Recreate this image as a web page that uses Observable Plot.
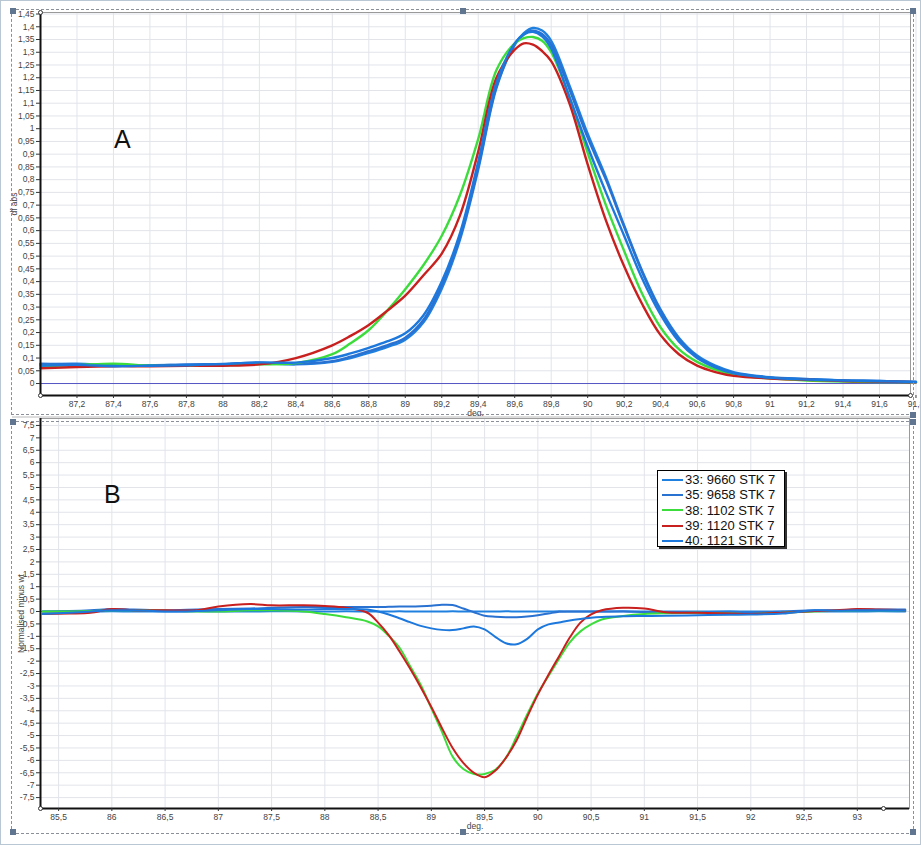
<!DOCTYPE html>
<html><head><meta charset="utf-8">
<script src="https://cdn.jsdelivr.net/npm/d3@7"></script>
<script src="https://cdn.jsdelivr.net/npm/@observablehq/plot@0.6"></script>
<style>
body{margin:0;background:#fff;}
#wrap{position:relative;width:921px;height:845px;overflow:hidden;background:#fff;font-family:"Liberation Sans",Arial,sans-serif;}
#wrap svg{position:absolute;left:0;}
.box{position:absolute;border:1px dashed #8a8f98;box-sizing:border-box;}
.sq{position:absolute;width:6px;height:6px;background:#5f7590;}
.ci{position:absolute;width:5px;height:5px;border:1px solid #333;border-radius:50%;background:#fff;box-sizing:border-box;}
.sep{position:absolute;height:2px;background:#dcdcdc;}
.letter{position:absolute;font-size:25px;color:#111;line-height:1;}
#legend{position:absolute;left:657px;top:470px;width:128px;height:77px;border:1px solid #000;box-shadow:2px 2px 0 #333;background:#fff;box-sizing:border-box;padding-top:1px;}
.row{height:15.3px;display:flex;align-items:center;font-size:13px;color:#111;white-space:nowrap;}
.sw{width:21px;height:2px;margin-left:4px;margin-right:2px;}
</style></head><body><div id="wrap"></div><script>
// ---------- names & colours ----------
const seriesNames = ["33: 9660 STK 7", "35: 9658 STK 7", "38: 1102 STK 7", "39: 1120 STK 7", "40: 1121 STK 7"];
const seriesColors = ["#1f80e0", "#2a72d2", "#3ddc3d", "#c8201e", "#1c78dc"];

// ---------- panel A (df abs vs deg.) ----------
const degA = [87.0, 87.2, 87.4, 87.6, 87.8, 88.0, 88.2, 88.4, 88.6, 88.7, 88.8, 88.9, 89.0, 89.1, 89.2, 89.3, 89.4, 89.5, 89.6, 89.65, 89.7, 89.75, 89.8, 89.9, 90.0, 90.1, 90.2, 90.3, 90.4, 90.5, 90.6, 90.7, 90.8, 91.0, 91.2, 91.4, 91.6, 91.8];
const a33 = [0.075, 0.078, 0.07, 0.072, 0.073, 0.075, 0.08, 0.075, 0.085, 0.1, 0.12, 0.143, 0.172, 0.24, 0.372, 0.565, 0.84, 1.16, 1.33, 1.375, 1.395, 1.385, 1.345, 1.17, 0.98, 0.81, 0.62, 0.44, 0.29, 0.18, 0.11, 0.07, 0.045, 0.025, 0.018, 0.012, 0.01, 0.006];
const a35 = [0.078, 0.075, 0.072, 0.07, 0.075, 0.077, 0.082, 0.078, 0.088, 0.105, 0.127, 0.15, 0.18, 0.25, 0.385, 0.575, 0.85, 1.165, 1.33, 1.37, 1.385, 1.372, 1.33, 1.155, 0.965, 0.8, 0.615, 0.435, 0.285, 0.175, 0.105, 0.065, 0.042, 0.024, 0.017, 0.012, 0.01, 0.006];
const a38 = [0.068, 0.072, 0.078, 0.07, 0.07, 0.072, 0.075, 0.08, 0.115, 0.158, 0.21, 0.285, 0.37, 0.465, 0.58, 0.74, 0.96, 1.23, 1.335, 1.355, 1.36, 1.345, 1.3, 1.125, 0.905, 0.7, 0.52, 0.35, 0.22, 0.135, 0.085, 0.055, 0.035, 0.02, 0.012, 0.008, 0.006, 0.005];
const a39 = [0.06, 0.065, 0.068, 0.068, 0.07, 0.07, 0.075, 0.1, 0.15, 0.187, 0.23, 0.285, 0.345, 0.425, 0.51, 0.66, 0.91, 1.2, 1.31, 1.335, 1.33, 1.305, 1.265, 1.1, 0.86, 0.64, 0.46, 0.31, 0.19, 0.115, 0.07, 0.045, 0.03, 0.02, 0.015, 0.01, 0.008, 0.005];
const a40 = [0.07, 0.073, 0.068, 0.07, 0.072, 0.076, 0.083, 0.082, 0.1, 0.118, 0.14, 0.165, 0.197, 0.268, 0.4, 0.59, 0.87, 1.18, 1.335, 1.37, 1.38, 1.363, 1.315, 1.125, 0.93, 0.75, 0.58, 0.41, 0.27, 0.165, 0.1, 0.063, 0.04, 0.022, 0.016, 0.012, 0.009, 0.006];
const xDomainA = [87.0, 91.77];
const yDomainA = [-0.047, 1.456];
const xTicksA = [87.2, 87.4, 87.6, 87.8, 88, 88.2, 88.4, 88.6, 88.8, 89, 89.2, 89.4, 89.6, 89.8, 90, 90.2, 90.4, 90.6, 90.8, 91, 91.2, 91.4, 91.6, 91.8];
const yTicksA = [0, 0.05, 0.1, 0.15, 0.2, 0.25, 0.3, 0.35, 0.4, 0.45, 0.5, 0.55, 0.6, 0.65, 0.7, 0.75, 0.8, 0.85, 0.9, 0.95, 1, 1.05, 1.1, 1.15, 1.2, 1.25, 1.3, 1.35, 1.4, 1.45];
const zeroLineA = [0];

// ---------- panel B (Normalised minus wt vs deg.) ----------
const degB = [85.35, 85.6, 85.8, 86.0, 86.2, 86.5, 86.8, 87.0, 87.3, 87.5, 87.8, 88.0, 88.2, 88.4, 88.5, 88.6, 88.7, 88.8, 88.9, 89.0, 89.1, 89.2, 89.3, 89.4, 89.5, 89.6, 89.7, 89.8, 89.9, 90.0, 90.1, 90.2, 90.3, 90.4, 90.5, 90.6, 90.8, 91.0, 91.2, 91.5, 91.8, 92.0, 92.3, 92.6, 92.8, 93.0, 93.2, 93.45];
const b33 = [0.0, 0.01, 0.0, 0.01, 0.0, 0.0, 0.01, 0.0, 0.0, 0.01, 0.0, 0.0, 0.01, 0.0, 0.0, 0.0, 0.01, 0.0, 0.0, 0.0, 0.0, 0.01, 0.0, 0.0, 0.0, 0.0, 0.01, 0.0, 0.0, 0.0, 0.0, 0.01, 0.0, 0.0, 0.0, 0.0, 0.01, 0.0, 0.0, 0.0, 0.01, 0.0, 0.0, 0.01, 0.0, 0.0, 0.01, 0.0];
const b35 = [0.0, 0.02, 0.05, 0.1, 0.08, 0.05, 0.08, 0.1, 0.12, 0.15, 0.18, 0.18, 0.18, 0.18, 0.18, 0.19, 0.2, 0.2, 0.21, 0.23, 0.27, 0.26, 0.12, -0.03, -0.17, -0.21, -0.23, -0.23, -0.2, -0.15, -0.08, -0.01, 0.0, 0.0, 0.0, 0.0, 0.0, -0.02, -0.03, -0.05, -0.05, -0.05, 0.0, 0.05, 0.05, 0.08, 0.08, 0.08];
const b38 = [0.0, 0.0, 0.02, 0.05, 0.05, 0.03, 0.0, 0.0, 0.05, 0.05, 0.0, -0.1, -0.23, -0.4, -0.6, -0.98, -1.45, -2.2, -2.95, -3.9, -4.85, -5.85, -6.35, -6.55, -6.55, -6.38, -5.9, -5.05, -4.15, -3.3, -2.6, -1.9, -1.24, -0.8, -0.52, -0.32, -0.18, -0.1, -0.07, -0.05, -0.08, -0.1, -0.05, 0.0, 0.03, 0.05, 0.05, 0.05];
const b39 = [-0.1, -0.08, -0.05, 0.1, 0.05, 0.05, 0.05, 0.2, 0.3, 0.25, 0.25, 0.22, 0.15, -0.05, -0.45, -0.95, -1.6, -2.3, -3.05, -3.85, -4.7, -5.5, -6.1, -6.5, -6.68, -6.42, -5.9, -5.2, -4.25, -3.35, -2.55, -1.8, -1.05, -0.45, -0.12, 0.05, 0.15, 0.12, -0.03, -0.05, -0.08, -0.1, -0.05, 0.02, 0.05, 0.1, 0.08, 0.05];
const b40 = [-0.1, -0.05, 0.0, 0.05, 0.05, 0.0, 0.02, 0.05, 0.1, 0.1, 0.08, 0.1, 0.1, 0.08, 0.0, -0.12, -0.27, -0.43, -0.58, -0.68, -0.74, -0.75, -0.68, -0.6, -0.72, -1.02, -1.28, -1.32, -1.1, -0.72, -0.52, -0.44, -0.36, -0.3, -0.25, -0.22, -0.19, -0.18, -0.17, -0.15, -0.13, -0.12, -0.08, 0.05, 0.03, 0.05, 0.05, 0.05];
const xDomainB = [85.33, 93.49];
const yDomainB = [-7.94, 7.78];
const xTicksB = [85.5, 86, 86.5, 87, 87.5, 88, 88.5, 89, 89.5, 90, 90.5, 91, 91.5, 92, 92.5, 93];
const yTicksB = [-7.5, -7, -6.5, -6, -5.5, -5, -4.5, -4, -3.5, -3, -2.5, -2, -1.5, -1, -0.5, 0, 0.5, 1, 1.5, 2, 2.5, 3, 3.5, 4, 4.5, 5, 5.5, 6, 6.5, 7, 7.5];

// ---------- tables ----------
const valsA = [a33, a35, a38, a39, a40];
const valsB = [b33, b35, b38, b39, b40];
const dataA = [], dataB = [];
seriesNames.forEach((s, i) => {
  degA.forEach((d, j) => dataA.push({series: s, deg: d, v: valsA[i][j]}));
  degB.forEach((d, j) => dataB.push({series: s, deg: d, v: valsB[i][j]}));
});
const fmt = d => String(+(+d).toFixed(2)).replace(".", ",");
const wrap = document.getElementById("wrap");
const baseStyle = {background: "transparent", fontFamily: "Liberation Sans, Arial, sans-serif", fontSize: "8.5px", color: "#444", overflow: "visible"};
const colorScale = {domain: seriesNames, range: seriesColors};

const plotA = Plot.plot({
  width: 921, height: 416,
  marginLeft: 40, marginRight: 11, marginTop: 12, marginBottom: 21,
  x: {domain: xDomainA},
  y: {domain: yDomainA},
  color: colorScale,
  style: baseStyle,
  marks: [
    Plot.gridX(xTicksA, {stroke: "#e2e4ea", strokeOpacity: 1}),
    Plot.gridY(yTicksA, {stroke: "#e2e4ea", strokeOpacity: 1}),
    Plot.frame({stroke: "#9a9a9a"}),
    Plot.ruleY(zeroLineA, {stroke: "#5656c4", strokeWidth: 1}),
    Plot.line(dataA, {x: "deg", y: "v", stroke: "series", strokeWidth: 2.4, curve: "catmull-rom"}),
    Plot.ruleX([xDomainA[0]], {stroke: "#111", strokeWidth: 2}),
    Plot.ruleY([yDomainA[0]], {stroke: "#111", strokeWidth: 2}),
    Plot.axisX(xTicksA, {tickSize: 3, tickPadding: 2, tickFormat: fmt, stroke: "#333", label: "deg.", labelAnchor: "center", labelArrow: "none", labelOffset: 20}),
    Plot.axisY(yTicksA, {tickSize: 4, tickPadding: 2, tickFormat: fmt, stroke: "#333", label: "df abs", labelAnchor: "center", labelArrow: "none", labelOffset: 30})
  ]
});
plotA.style.top = "0px";
wrap.appendChild(plotA);

const plotB = Plot.plot({
  width: 921, height: 435,
  marginLeft: 40, marginRight: 12, marginTop: 8, marginBottom: 37,
  x: {domain: xDomainB},
  y: {domain: yDomainB},
  color: colorScale,
  style: baseStyle,
  marks: [
    Plot.gridX(xTicksB, {stroke: "#e2e4ea", strokeOpacity: 1}),
    Plot.gridY(yTicksB, {stroke: "#e2e4ea", strokeOpacity: 1}),
    Plot.frame({stroke: "#9a9a9a"}),
    Plot.line(dataB, {x: "deg", y: "v", stroke: "series", strokeWidth: 2, curve: "catmull-rom"}),
    Plot.ruleX([xDomainB[0]], {stroke: "#111", strokeWidth: 2}),
    Plot.ruleY([yDomainB[0]], {stroke: "#111", strokeWidth: 2}),
    Plot.axisX(xTicksB, {tickSize: 3, tickPadding: 2, tickFormat: fmt, stroke: "#333", label: "deg.", labelAnchor: "center", labelArrow: "none", labelOffset: 20}),
    Plot.axisY(yTicksB, {tickSize: 4, tickPadding: 2, tickFormat: fmt, stroke: "#333", label: "Normalised minus wt", labelAnchor: "center", labelArrow: "none", labelOffset: 23})
  ]
});
plotB.style.top = "410px";
wrap.appendChild(plotB);

// ---------- decorations (chart-control frame) ----------
function add(cls, css, text) {
  const e = document.createElement("div");
  e.className = cls;
  Object.assign(e.style, css);
  if (text) e.textContent = text;
  wrap.appendChild(e);
  return e;
}
add("box", {left: "11px", top: "9px", width: "903px", height: "406px"});
add("box", {left: "11px", top: "421px", width: "903px", height: "413px"});
add("sep", {left: "12px", top: "416px", width: "900px"});
[[10,8],[460,8],[910,8],[910,412],[10,419],[910,419],[10,829],[460,829],[910,829]].forEach(([x,y]) => add("sq", {left: x+"px", top: y+"px"}));
[[38,10],[38,393],[908,393],[38,806],[881,806]].forEach(([x,y]) => add("ci", {left: x+"px", top: y+"px"}));
add("letter", {left: "114px", top: "127px"}, "A");
add("letter", {left: "104px", top: "482px"}, "B");
add("", {position: "absolute", left: "0", top: "0", width: "921px", height: "845px", border: "1px solid #b9c6d4", boxSizing: "border-box", pointerEvents: "none"});

// ---------- legend ----------
const lg = document.createElement("div");
lg.id = "legend";
seriesNames.forEach((s, i) => {
  const r = document.createElement("div");
  r.className = "row";
  const sw = document.createElement("span");
  sw.className = "sw";
  sw.style.background = seriesColors[i];
  const t = document.createElement("span");
  t.textContent = s;
  r.appendChild(sw); r.appendChild(t);
  lg.appendChild(r);
});
wrap.appendChild(lg);
</script></body></html>
